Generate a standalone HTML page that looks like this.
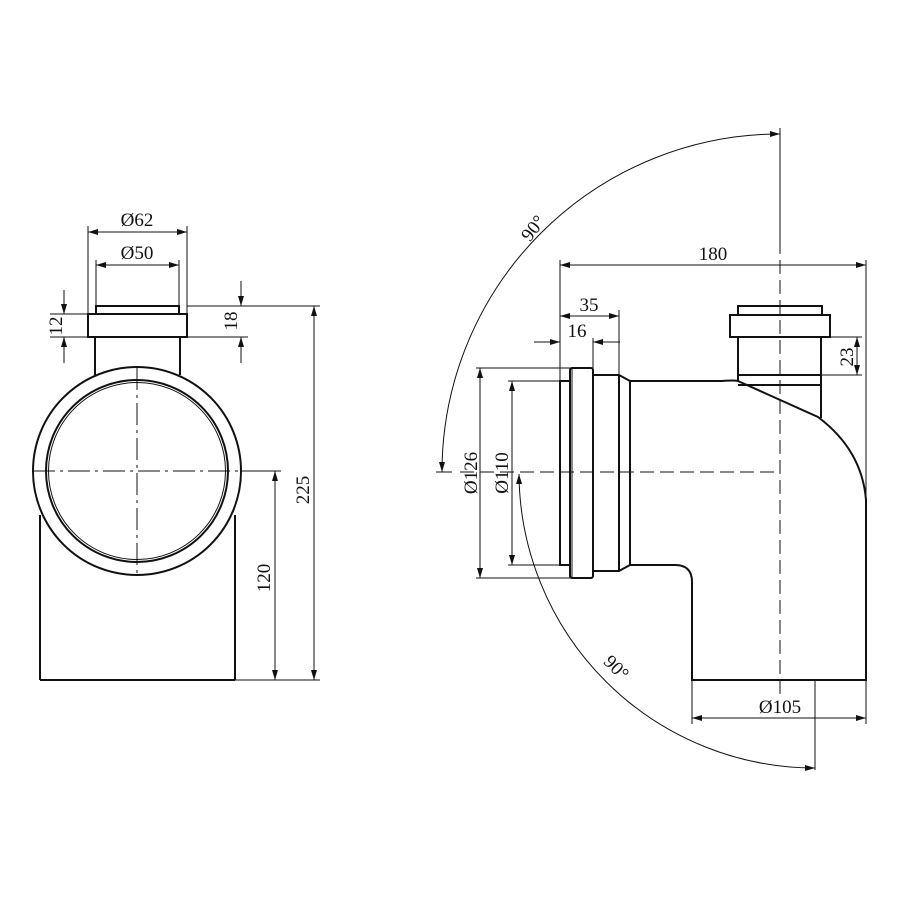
<!DOCTYPE html>
<html><head><style>body{margin:0;background:#fff}svg{display:block}text{font-family:"Liberation Serif",serif;font-size:19px;fill:#111}</style></head><body>
<svg width="900" height="900" viewBox="0 0 900 900" xmlns="http://www.w3.org/2000/svg">
<defs>
<marker id="a" viewBox="0 0 10 6" refX="10" refY="3" markerWidth="10" markerHeight="6" orient="auto-start-reverse" markerUnits="userSpaceOnUse"><path d="M0,0L10,3L0,6z" fill="#111"/></marker>
</defs>
<g stroke="#111" fill="none">
<g stroke-width="2">
<rect x="96" y="306" width="83" height="8"/>
<rect x="88" y="314" width="99" height="23"/>
<line x1="95" y1="337" x2="95" y2="375"/>
<line x1="180" y1="337" x2="180" y2="375"/>
<circle cx="137" cy="471" r="104"/>
<circle cx="137" cy="471" r="91"/>
<line x1="40" y1="515" x2="40" y2="680"/>
<line x1="235" y1="515" x2="235" y2="680"/>
<line x1="40" y1="680" x2="235" y2="680"/>
</g>
<circle cx="137" cy="471" r="88.5" stroke-width="1"/>
<g stroke-width="1" stroke-dasharray="22,5,3,5">
<line x1="137" y1="368" x2="137" y2="575"/>
<line x1="33" y1="471" x2="241" y2="471"/>
</g>
<g stroke-width="1">
<line x1="88" y1="226" x2="88" y2="314"/><line x1="187" y1="226" x2="187" y2="314"/>
<line x1="88" y1="232" x2="187" y2="232" marker-start="url(#a)" marker-end="url(#a)"/>
<line x1="96" y1="260" x2="96" y2="306"/><line x1="179" y1="260" x2="179" y2="306"/>
<line x1="96" y1="265" x2="179" y2="265" marker-start="url(#a)" marker-end="url(#a)"/>
<line x1="50" y1="314" x2="88" y2="314"/><line x1="50" y1="337" x2="88" y2="337"/>
<line x1="64" y1="290" x2="64" y2="314" marker-end="url(#a)"/>
<line x1="64" y1="363" x2="64" y2="337" marker-end="url(#a)"/>
<line x1="187" y1="306" x2="320" y2="306"/><line x1="187" y1="337" x2="248" y2="337"/>
<line x1="241" y1="281" x2="241" y2="306" marker-end="url(#a)"/>
<line x1="241" y1="363" x2="241" y2="337" marker-end="url(#a)"/>
<line x1="241" y1="471" x2="281" y2="471"/><line x1="235" y1="680" x2="320" y2="680"/>
<line x1="275" y1="471" x2="275" y2="680" marker-start="url(#a)" marker-end="url(#a)"/>
<line x1="314" y1="306" x2="314" y2="680" marker-start="url(#a)" marker-end="url(#a)"/>
</g>
<g stroke-width="2">
<rect x="738" y="306" width="84" height="9"/>
<rect x="730" y="315" width="100" height="22"/>
<line x1="738" y1="337" x2="738" y2="381"/>
<line x1="821" y1="337" x2="821" y2="418"/>
<line x1="738" y1="375" x2="821" y2="375"/>
<line x1="738" y1="385" x2="821" y2="385"/>
<rect x="560" y="381" width="10" height="184"/>
<rect x="570" y="368" width="23" height="210" rx="2"/>
<path d="M593,375H619L630,381H722Q735,380 738,381L818,417Q862,450 866,500V680H692V582Q692,565 675,565H630L619,571H593"/>
<line x1="619" y1="375" x2="619" y2="571"/>
<line x1="630" y1="381" x2="630" y2="565"/>
</g>
<line x1="572" y1="368" x2="572" y2="578" stroke-width="1"/>
<g stroke-width="1" stroke-dasharray="14,6">
<line x1="780" y1="240" x2="780" y2="700"/>
<line x1="460" y1="472" x2="780" y2="472"/>
</g>
<g stroke-width="1">
<line x1="780" y1="128" x2="780" y2="240"/>
<line x1="560" y1="260" x2="560" y2="381"/><line x1="866" y1="260" x2="866" y2="500"/>
<line x1="560" y1="265" x2="866" y2="265" marker-start="url(#a)" marker-end="url(#a)"/>
<line x1="619" y1="310" x2="619" y2="375"/>
<line x1="560" y1="316" x2="619" y2="316" marker-start="url(#a)" marker-end="url(#a)"/>
<line x1="593" y1="338" x2="593" y2="368"/>
<line x1="534" y1="342" x2="560" y2="342" marker-end="url(#a)"/>
<line x1="620" y1="342" x2="593" y2="342" marker-end="url(#a)"/>
<line x1="822" y1="337" x2="862" y2="337"/><line x1="822" y1="375" x2="862" y2="375"/>
<line x1="857" y1="337" x2="857" y2="375" marker-start="url(#a)" marker-end="url(#a)"/>
<line x1="476" y1="368" x2="570" y2="368"/><line x1="476" y1="578" x2="570" y2="578"/>
<line x1="480" y1="368" x2="480" y2="578" marker-start="url(#a)" marker-end="url(#a)"/>
<line x1="508" y1="381" x2="560" y2="381"/><line x1="508" y1="565" x2="560" y2="565"/>
<line x1="512" y1="381" x2="512" y2="565" marker-start="url(#a)" marker-end="url(#a)"/>
<line x1="692" y1="680" x2="692" y2="724"/><line x1="866" y1="680" x2="866" y2="724"/>
<line x1="692" y1="718" x2="866" y2="718" marker-start="url(#a)" marker-end="url(#a)"/>
<line x1="815" y1="680" x2="815" y2="770"/>
<line x1="436" y1="472" x2="452" y2="472"/>
<path d="M780,134A338,338 0 0 0 442,472" marker-start="url(#a)" marker-end="url(#a)"/>
<path d="M519,474A296,296 0 0 0 815,768" marker-start="url(#a)" marker-end="url(#a)"/>
</g>
</g>
<text x="137" y="226" text-anchor="middle">Ø62</text>
<text x="137" y="259" text-anchor="middle">Ø50</text>
<text transform="translate(62,326) rotate(-90)" text-anchor="middle">12</text>
<text transform="translate(237,321) rotate(-90)" text-anchor="middle">18</text>
<text transform="translate(270,578) rotate(-90)" text-anchor="middle">120</text>
<text transform="translate(309,490) rotate(-90)" text-anchor="middle">225</text>
<text x="713" y="260" text-anchor="middle">180</text>
<text x="589" y="311" text-anchor="middle">35</text>
<text x="577" y="337" text-anchor="middle">16</text>
<text transform="translate(853,357) rotate(-90)" text-anchor="middle">23</text>
<text transform="translate(477,473) rotate(-90)" text-anchor="middle">Ø126</text>
<text transform="translate(508,473) rotate(-90)" text-anchor="middle">Ø110</text>
<text x="780" y="713" text-anchor="middle">Ø105</text>
<text transform="translate(538,232) rotate(-52)" text-anchor="middle">90°</text>
<text transform="translate(612,672) rotate(45)" text-anchor="middle">90°</text>
</svg>
</body></html>
